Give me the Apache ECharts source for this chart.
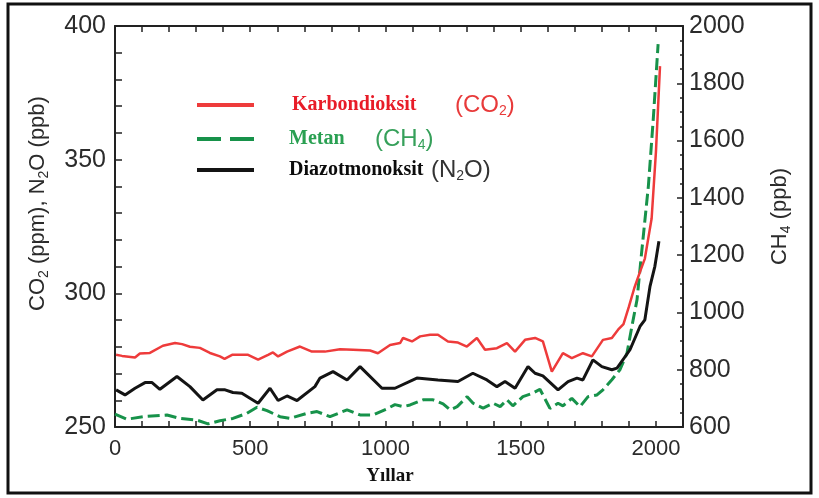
<!DOCTYPE html>
<html>
<head>
<meta charset="utf-8">
<script src="https://cdn.jsdelivr.net/npm/echarts@6/dist/echarts.min.js"></script>
<style>
html,body{margin:0;padding:0;background:#fff;}
#c{width:819px;height:498px;}
</style>
</head>
<body>
<div id="c"></div>
<script>
// ---- data ----
const co2Years = [4,26,74,92,129,177,222,248,277,314,351,388,405,433,492,529,566,584,603,636,684,728,776,832,880,943,972,1017,1054,1065,1098,1128,1165,1194,1231,1268,1301,1338,1368,1412,1449,1479,1516,1553,1582,1615,1656,1689,1730,1763,1804,1837,1860,1880,1900,1920,1941,1959,1984,2000,2015];
const co2Values = [277.0,276.6,276.0,277.5,277.7,280.4,281.4,281.0,280.0,279.6,277.7,276.4,275.5,277.0,277.0,275.2,277.0,277.9,276.4,278.2,280.1,278.2,278.2,279.1,278.9,278.6,277.6,280.7,281.4,283.3,282.0,283.9,284.5,284.5,282.0,281.6,280.1,283.3,278.9,279.5,281.4,278.2,282.6,283.3,282.0,270.7,277.6,275.8,277.6,276.4,282.6,283.3,286.4,288.5,295.0,302.0,308.0,313.0,328.0,353.0,385.0];

const n2oYears = [4,37,74,111,137,166,229,277,325,377,407,436,469,529,573,603,636,673,739,758,806,858,906,987,1035,1116,1194,1268,1323,1375,1412,1442,1479,1527,1553,1582,1638,1675,1708,1730,1767,1800,1837,1856,1904,1941,1959,1978,1996,2011];
const n2oValues = [263.9,262.0,264.5,266.6,266.6,264.1,268.9,265.1,260.1,263.9,263.9,262.9,262.6,258.9,264.5,259.9,261.6,259.9,265.1,268.3,270.7,267.6,272.6,264.5,264.5,268.3,267.6,267.0,270.1,267.6,265.1,267.0,264.5,272.6,270.1,269.1,263.9,267.0,268.3,267.6,275.1,272.6,271.4,272.0,278.9,287.6,290.1,302.6,310.1,319.5];

const ch4Years = [0,44,104,192,240,303,344,388,436,488,525,562,610,647,710,747,795,858,906,954,1002,1035,1065,1091,1139,1176,1213,1239,1265,1302,1324,1361,1398,1424,1449,1471,1508,1545,1571,1608,1638,1656,1689,1719,1749,1782,1804,1837,1867,1893,1911,1930,1947,1972,1990,2008];
const ch4Values = [645,627,636,642,630,624,611,622,630,648,669,657,636,630,648,654,636,660,642,642,662,678,671,677,695,695,681,660,671,706,683,666,683,671,695,674,706,718,732,665,683,674,700,671,706,712,730,765,800,858,951,1044,1209,1441,1674,1937];

const seriesNames = ['Karbondioksit','Metan','Diazotmonoksit'];
const xTickLabels = [0,500,1000,1500,2000];
const leftTickLabels = [250,300,350,400];
const rightTickLabels = [600,800,1000,1200,1400,1600,1800,2000];

const zip = (xs, ys) => xs.map((x, i) => [x, ys[i]]);

const RED = '#ee3b3b', GREEN = '#17924a', BLACK = '#141414';
const AXIS = '#222';
const SANS = 'Liberation Sans, Arial, sans-serif';
const SERIF = 'Liberation Serif, Times New Roman, serif';

const xLabelStyle = {fontFamily: SANS, fontSize: 22, color: '#2b2b2b'};
const yLabelStyle = {fontFamily: SANS, fontSize: 25, color: '#2b2b2b', padding: [8, 0, 0, 0]};

const chart = echarts.init(document.getElementById('c'), null, {renderer: 'canvas'});

function legendRich(color1, color2, w1, pad) {
  return {
    a: {fontFamily: SERIF, fontWeight: 'bold', fontSize: 20, color: color1, width: w1, padding: [0,0,0,pad]},
    b: {fontFamily: SANS, fontSize: 24, color: color2},
    s: {fontFamily: SANS, fontSize: 14, color: color2, padding: [13,0,0,0]}
  };
}

const legendBase = {
  left: 195, padding: 0, itemWidth: 57, itemHeight: 2,
  itemStyle: {color: 'rgba(0,0,0,0)', borderWidth: 0, opacity: 0}
};

const option = {
  animation: false,
  backgroundColor: '#fff',
  graphic: [{
    type: 'rect', shape: {x: 8, y: 4, width: 803, height: 489},
    style: {fill: null, stroke: '#111', lineWidth: 3}, z: 100
  }],
  grid: {left: 115, right: 136, top: 26, bottom: 71, containLabel: false},
  legend: [
    Object.assign({}, legendBase, {
      data: [seriesNames[0]], top: 93,
      lineStyle: {width: 4},
      formatter: () => '{a|Karbondioksit}{b|(CO}{s|2}{b|)}',
      textStyle: {rich: legendRich('#e81c28', '#e83a3a', 163, 33)}
    }),
    Object.assign({}, legendBase, {
      data: [seriesNames[1]], top: 127,
      lineStyle: {width: 4, type: [24, 9]},
      formatter: () => '{a|Metan}{b|(CH}{s|4}{b|)}',
      textStyle: {rich: legendRich('#2aa052', '#36a05a', 86, 30)}
    }),
    Object.assign({}, legendBase, {
      data: [seriesNames[2]], top: 158,
      lineStyle: {width: 4},
      formatter: () => '{a|Diazotmonoksit}{b|(N}{s|2}{b|O)}',
      textStyle: {rich: legendRich('#0c0c0c', '#333', 142, 30)}
    })
  ],
  xAxis: [
    {
      type: 'value', position: 'bottom', min: 0, max: 2100, interval: 100,
      axisLine: {show: true, onZero: false, lineStyle: {color: AXIS, width: 2}},
      axisTick: {show: true, inside: true, length: 6, lineStyle: {color: AXIS, width: 1.5}},
      axisLabel: Object.assign({margin: 11, formatter: v => xTickLabels.includes(v) ? String(v) : ''}, xLabelStyle),
      splitLine: {show: false},
      name: 'Yıllar', nameLocation: 'middle', nameGap: 40,
      nameTextStyle: {fontFamily: SERIF, fontWeight: 'bold', fontSize: 19, color: '#111', padding: [0, 18, 0, 0]}
    },
    {
      type: 'value', position: 'top', min: 0, max: 2100, interval: 100,
      axisLine: {show: true, onZero: false, lineStyle: {color: AXIS, width: 2}},
      axisTick: {show: true, inside: true, length: 6, lineStyle: {color: AXIS, width: 1.5}},
      axisLabel: {show: false},
      splitLine: {show: false}
    }
  ],
  yAxis: [
    {
      type: 'value', position: 'left', min: 250, max: 400, interval: 10,
      axisLine: {show: true, onZero: false, lineStyle: {color: AXIS, width: 2}},
      axisTick: {show: true, inside: true, length: 7, lineStyle: {color: AXIS, width: 1.5}},
      axisLabel: Object.assign({margin: 9, formatter: v => leftTickLabels.includes(v) ? String(v) : ''}, yLabelStyle),
      splitLine: {show: false},
      name: 'CO{s|2} (ppm), N{s|2}O (ppb)', nameLocation: 'middle', nameGap: 64, nameRotate: 90,
      nameTextStyle: {
        fontFamily: SANS, fontSize: 22, color: '#2b2b2b', padding: [0, 0, 0, 46],
        rich: {s: {fontFamily: SANS, fontSize: 14, color: '#2b2b2b', padding: [12, 0, 0, 0]}}
      }
    },
    {
      type: 'value', position: 'right', min: 600, max: 2000, interval: 200,
      axisLine: {show: true, onZero: false, lineStyle: {color: AXIS, width: 2}},
      axisTick: {show: true, inside: true, length: 6, lineStyle: {color: AXIS, width: 1.5}},
      minorTick: {show: true, splitNumber: 4, length: 3, lineStyle: {color: AXIS, width: 1.5}},
      axisLabel: Object.assign({margin: 6, formatter: v => rightTickLabels.includes(v) ? String(v) : ''}, yLabelStyle),
      splitLine: {show: false},
      name: 'CH{s|4} (ppb)', nameLocation: 'middle', nameGap: 84, nameRotate: 90,
      nameTextStyle: {
        fontFamily: SANS, fontSize: 22, color: '#2b2b2b', padding: [0, 0, 0, 20],
        rich: {s: {fontFamily: SANS, fontSize: 14, color: '#2b2b2b', padding: [12, 0, 0, 0]}}
      }
    }
  ],
  series: [
    {
      name: seriesNames[1], type: 'line', xAxisIndex: 0, yAxisIndex: 1,
      data: zip(ch4Years, ch4Values), symbol: 'none', showSymbol: false,
      lineStyle: {color: GREEN, width: 3, type: [12, 5]}, itemStyle: {color: GREEN}, z: 2
    },
    {
      name: seriesNames[2], type: 'line', xAxisIndex: 0, yAxisIndex: 0,
      data: zip(n2oYears, n2oValues), symbol: 'none', showSymbol: false,
      lineStyle: {color: BLACK, width: 3}, itemStyle: {color: BLACK}, z: 3
    },
    {
      name: seriesNames[0], type: 'line', xAxisIndex: 0, yAxisIndex: 0,
      data: zip(co2Years, co2Values), symbol: 'none', showSymbol: false,
      lineStyle: {color: RED, width: 2.5}, itemStyle: {color: RED}, z: 4
    }
  ]
};
chart.setOption(option);
</script>
</body>
</html>
